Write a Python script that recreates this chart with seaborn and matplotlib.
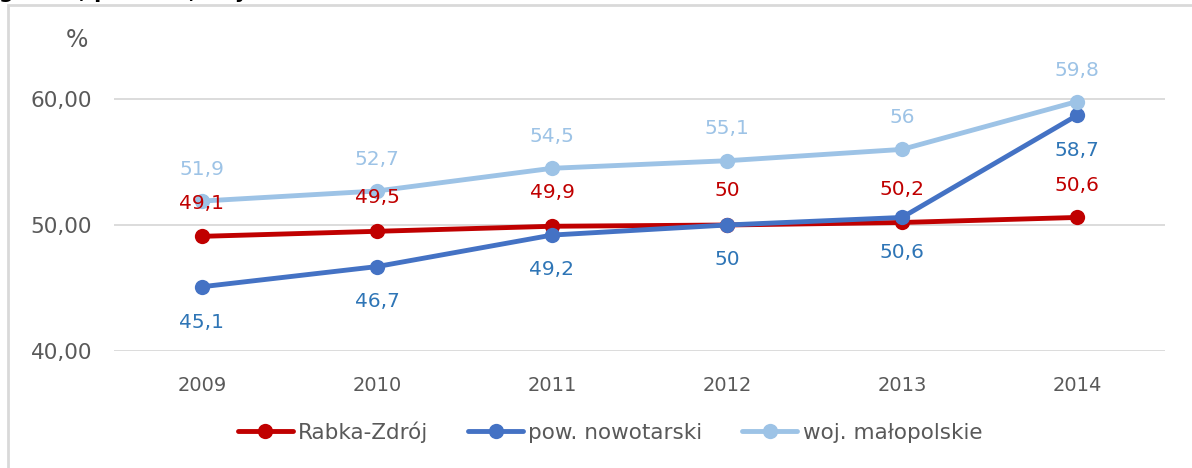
import pandas as pd
import seaborn as sns
import matplotlib.pyplot as plt
from matplotlib.lines import Line2D
from matplotlib.patches import Rectangle

# --------------------------------------------------
# Data
# --------------------------------------------------

YEARS = ["2009", "2010", "2011", "2012", "2013", "2014"]
SERIES = ["Rabka-Zdrój", "pow. nowotarski", "woj. małopolskie"]

rabka = [49.1, 49.5, 49.9, 50, 50.2, 50.6]
nowotarski = [45.1, 46.7, 49.2, 50, 50.6, 58.7]
malopolskie = [51.9, 52.7, 54.5, 55.1, 56, 59.8]

# labels as printed in the source chart
rabka_labels = ["49,1", "49,5", "49,9", "50", "50,2", "50,6"]
nowotarski_labels = ["45,1", "46,7", "49,2", "50", "50,6", "58,7"]
malopolskie_labels = ["51,9", "52,7", "54,5", "55,1", "56", "59,8"]

Y_TICKS = [40, 50, 60]
Y_TICK_LABELS = ["40,00", "50,00", "60,00"]

# --------------------------------------------------
# Styling
# --------------------------------------------------

COLORS = {
    "Rabka-Zdrój": "#C00000",
    "pow. nowotarski": "#4472C4",
    "woj. małopolskie": "#9DC3E6",
}
LABEL_COLORS = {
    "Rabka-Zdrój": "#C00000",
    "pow. nowotarski": "#2E75B6",
    "woj. małopolskie": "#9DC3E6",
}
GRID = "#D9D9D9"
TEXT = "#595959"

sns.set_theme(style="white")
plt.rcParams["font.family"] = ["DejaVu Sans"]

df = pd.DataFrame({
    "pos": list(range(len(YEARS))) * 3,
    "value": rabka + nowotarski + malopolskie,
    "series": [s for s in SERIES for _ in YEARS],
})

W, H = 1192, 468
fig = plt.figure(figsize=(W / 100, H / 100), dpi=100)
ax = fig.add_axes([114.5 / W, 1 - 351 / H, 1050 / W, 315 / H])

sns.lineplot(
    data=df, x="pos", y="value", hue="series", hue_order=SERIES,
    palette=COLORS, marker="o", markersize=11, markeredgewidth=0,
    linewidth=3.5, legend=False, ax=ax, zorder=3,
)

ax.set_xlim(-0.5, len(YEARS) - 0.5)
ax.set_ylim(40, 65)
ax.set_xticks(range(len(YEARS)))
ax.set_xticklabels(YEARS)
ax.set_yticks(Y_TICKS)
ax.set_yticklabels(Y_TICK_LABELS)
ax.set_xlabel("")
ax.set_ylabel("")
ax.tick_params(axis="x", length=0, pad=18, labelsize=14, colors=TEXT)
ax.tick_params(axis="y", length=0, pad=16, labelsize=15.5, colors=TEXT)

for y in Y_TICKS:
    ax.axhline(y, color=GRID, lw=1.3, zorder=1)
for side in ["top", "right", "left", "bottom"]:
    ax.spines[side].set_visible(False)

# data labels (offsets in points: + above, - below)
offsets = {
    "woj. małopolskie": [23, 23, 23, 23, 23, 22],
    "Rabka-Zdrój": [24, 24, 24, 25, 24, 23],
    "pow. nowotarski": [-26, -25, -25, -25, -25, -25],
}
values = {"Rabka-Zdrój": rabka, "pow. nowotarski": nowotarski,
          "woj. małopolskie": malopolskie}
labels = {"Rabka-Zdrój": rabka_labels, "pow. nowotarski": nowotarski_labels,
          "woj. małopolskie": malopolskie_labels}
for s in SERIES:
    for i, (v, lab) in enumerate(zip(values[s], labels[s])):
        ax.annotate(lab, (i, v), xytext=(0, offsets[s][i]),
                    textcoords="offset points", ha="center", va="center",
                    fontsize=14.5, color=LABEL_COLORS[s], zorder=5)

fig.text(77 / W, 1 - 40 / H, "%", ha="center", va="center",
         fontsize=17, color=TEXT)

# legend
handles = [Line2D([0], [0], color=COLORS[s], lw=3.5, marker="o",
                  markersize=11, markeredgewidth=0) for s in SERIES]
fig.legend(handles, SERIES, loc="center", bbox_to_anchor=(610 / W, 1 - 432 / H),
           ncol=3, frameon=False, handlelength=2.55, handletextpad=0.25,
           columnspacing=1.85, prop={"size": 15.5}, labelcolor=TEXT)

# chart frame and cut-off title from the source document
fig.add_artist(Rectangle((8 / W, -0.1), 1.2, 1 - 5 / H + 0.1,
                         transform=fig.transFigure, fill=False,
                         edgecolor=GRID, lw=2))
fig.text(-1 / W, 1 + 2 / H, "gminie, powiatu, województwa", ha="left",
         va="baseline", fontsize=15, fontweight="bold", color="black")

fig.savefig("out.png", dpi=100)
